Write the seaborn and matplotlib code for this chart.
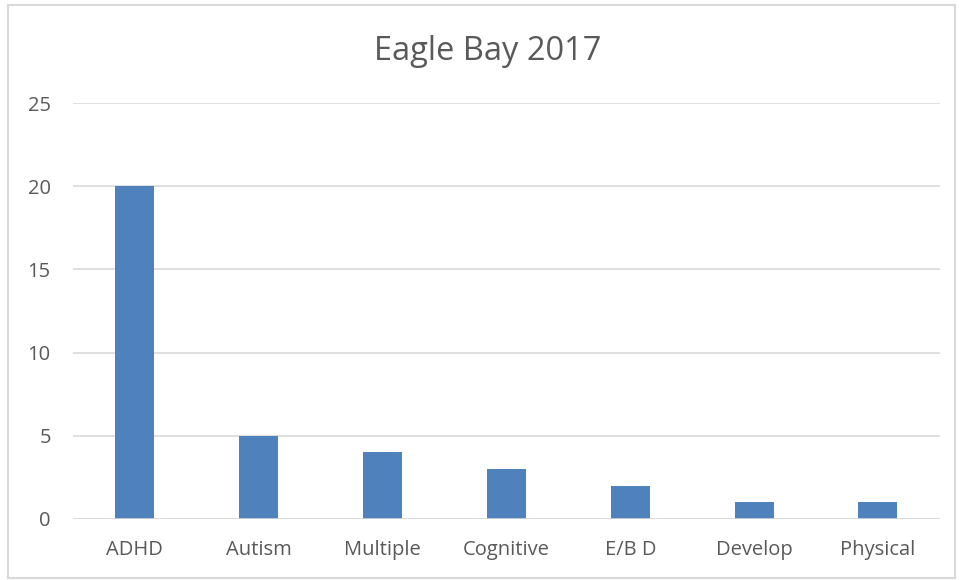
import matplotlib
matplotlib.use("Agg")
import matplotlib.pyplot as plt
import seaborn as sns
import pandas as pd
from matplotlib.patches import Rectangle

categories = ["ADHD", "Autism", "Multiple", "Cognitive", "E/B D", "Develop", "Physical"]
counts = [20, 5, 4, 3, 2, 1, 1]
y_ticks = [0, 5, 10, 15, 20, 25]

df = pd.DataFrame({"category": categories, "count": counts})

sns.set_theme(style="white")
plt.rcParams["font.family"] = ["Open Sans", "DejaVu Sans"]

fig = plt.figure(figsize=(9.59, 5.80), dpi=100)
ax = fig.add_axes([0.0761, 0.1052, 0.904, 0.7172])

sns.barplot(data=df, x="category", y="count", color="#4F81BD", saturation=1,
            width=0.315, linewidth=0, ax=ax, zorder=3)

ax.set_ylim(0, 25)
ax.set_yticks(y_ticks)
ax.set_xlim(-0.5, len(categories) - 0.5)
ax.yaxis.grid(True, color="#D9D9D9", linewidth=1.2, zorder=0)
ax.xaxis.grid(False)
for s in ax.spines.values():
    s.set_visible(False)
ax.axhline(0, color="#D9D9D9", linewidth=1.2, zorder=4)
ax.set_xlabel("")
ax.set_ylabel("")
ax.tick_params(axis="y", length=0, pad=16, labelsize=14.5, labelcolor="#595959")
ax.tick_params(axis="x", length=0, pad=15, labelsize=14.5, labelcolor="#595959")

fig.text(0.509, 0.911, "Eagle Bay 2017", ha="center", va="center",
         fontsize=23.5, color="#595959")

# chart outer border
fig.patches.append(Rectangle((8 / 959, 2 / 580), 947 / 959, 573 / 580,
                             transform=fig.transFigure, fill=False,
                             edgecolor="#D9D9D9", linewidth=1.5))

fig.savefig("out.png", dpi=100)
